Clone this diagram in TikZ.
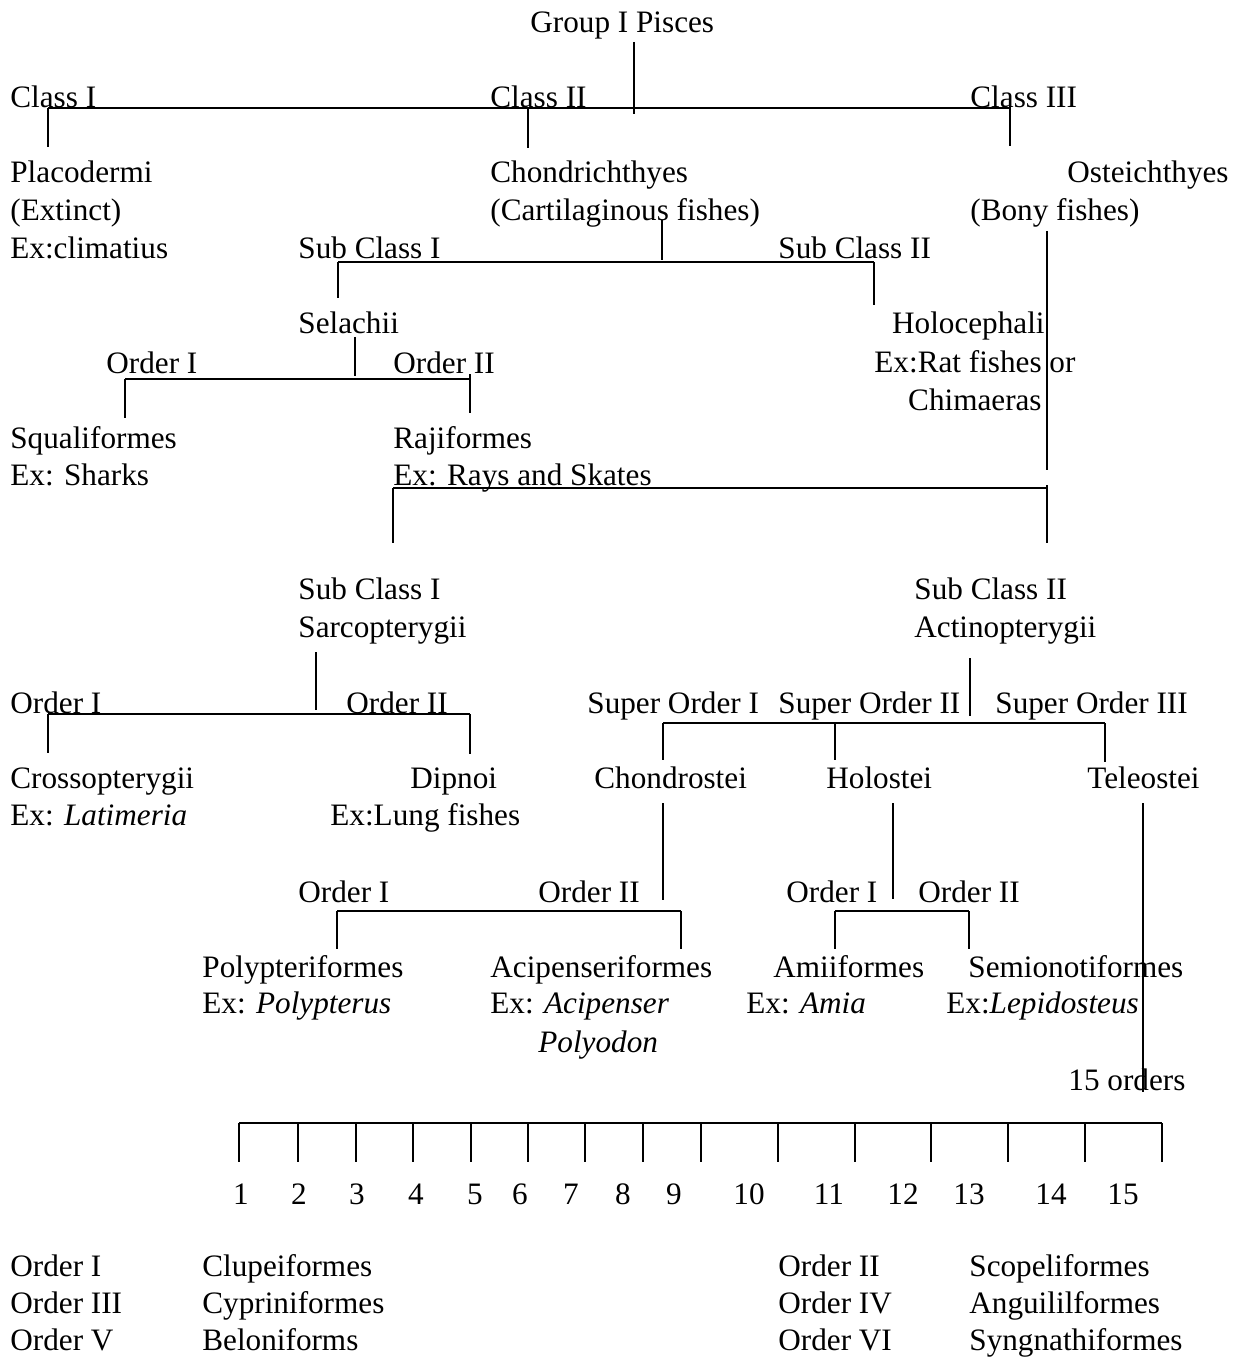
\documentclass[tikz,border=0pt]{standalone}
\usepackage{fontspec}
\setmainfont{Liberation Serif}
\begin{document}
\begin{tikzpicture}[x=0.5pt,y=-0.5pt,
  lbl/.style={anchor=base west,inner sep=0pt,font=\fontsize{15.6pt}{19pt}\selectfont},
  lblr/.style={lbl,anchor=base east},
  num/.style={lbl,anchor=base},
  link/.style={line width=1pt}]
\useasboundingbox (0,0) rectangle (1239,1358);

% ---------- labels ----------
\node[lbl] (grp) at (530,33) {Group I Pisces};
\node[lbl] (c1) at (10,108) {Class I};
\node[lbl] (c2) at (490,108) {Class II};
\node[lbl] (c3) at (970,108) {Class III};

\node[lbl] (plac) at (10,183) {Placodermi};
\node[lbl] (ext) at (10,221) {(Extinct)};
\node[lbl] (clim) at (10,259) {Ex:climatius};

\node[lbl] (chon) at (490,183) {Chondrichthyes};
\node[lbl] (cart) at (490,221) {(Cartilaginous fishes)};

\node[lblr] (oste) at (1229,183) {Osteichthyes};
\node[lbl] (bony) at (970,221) {(Bony fishes)};

\node[lbl] (sca) at (298,259) {Sub Class I};
\node[lbl] (scb) at (778,259) {Sub Class II};

\node[lbl] (sela) at (298,334) {Selachii};
\node[lblr] (holo) at (1045,334) {Holocephali};
\node[lbl] (rat) at (874,372) {Ex:Rat fishes or};
\node[lblr] (chim) at (1042,410) {Chimaeras};

\node[lbl] (oa) at (106,373) {Order I};
\node[lbl] (ob) at (393,373) {Order II};
\node[lbl] (squa) at (10,448) {Squaliformes};
\node[lbl] (shark) at (10,485) {Ex: Sharks};
\node[lbl] (raji) at (393,448) {Rajiformes};
\node[lbl] (rays) at (393,485) {Ex: Rays and Skates};

\node[lbl] (scc) at (298,599) {Sub Class I};
\node[lbl] (sarc) at (298,637) {Sarcopterygii};
\node[lbl] (scd) at (914,599) {Sub Class II};
\node[lbl] (actn) at (914,637) {Actinopterygii};

\node[lbl] (oc) at (10,713) {Order I};
\node[lbl] (od) at (346,713) {Order II};
\node[lbl] (soa) at (587,713) {Super Order I};
\node[lbl] (sob) at (778,713) {Super Order II};
\node[lbl] (soc) at (995,713) {Super Order III};

\node[lbl] (cros) at (10,788) {Crossopterygii};
\node[lbl] (lat) at (10,825) {Ex: \textit{Latimeria}};
\node[lbl] (dip) at (410,788) {Dipnoi};
\node[lbl] (lung) at (330,825) {Ex:Lung fishes};
\node[lbl] (chos) at (594,788) {Chondrostei};
\node[lbl] (hols) at (826,788) {Holostei};
\node[lbl] (tele) at (1087,788) {Teleostei};

\node[lbl] (oe) at (298,902) {Order I};
\node[lbl] (of) at (538,902) {Order II};
\node[lbl] (og) at (786,902) {Order I};
\node[lbl] (oh) at (918,902) {Order II};

\node[lbl] (polf) at (202,977) {Polypteriformes};
\node[lbl] (polx) at (202,1013) {Ex: \textit{Polypterus}};
\node[lbl] (acif) at (490,977) {Acipenseriformes};
\node[lbl] (acix) at (490,1013) {Ex: \textit{Acipenser}};
\node[lbl] (polyo) at (538,1052) {\textit{Polyodon}};
\node[lbl] (amif) at (773,977) {Amiiformes};
\node[lbl] (amix) at (746,1013) {Ex: \textit{Amia}};
\node[lbl] (semf) at (968,977) {Semionotiformes};
\node[lbl] (semx) at (946,1013) {Ex:\textit{Lepidosteus}};

\node[lbl] (fifteen) at (1068,1090) {15 orders};

\foreach \i/\x in {1/241,2/299,3/357,4/416,5/475,6/520,7/571,8/623,9/674,10/749,11/829,12/903,13/969,14/1051,15/1123}
  \node[num] (n\i) at (\x,1204) {\i};

\node[lbl] (r1a) at (10,1276) {Order I};
\node[lbl] (r1b) at (202,1276) {Clupeiformes};
\node[lbl] (r2a) at (10,1313) {Order III};
\node[lbl] (r2b) at (202,1313) {Cypriniformes};
\node[lbl] (r3a) at (10,1350) {Order V};
\node[lbl] (r3b) at (202,1350) {Beloniforms};
\node[lbl] (r1c) at (778,1276) {Order II};
\node[lbl] (r1d) at (969,1276) {Scopeliformes};
\node[lbl] (r2c) at (778,1313) {Order IV};
\node[lbl] (r2d) at (969,1313) {Anguililformes};
\node[lbl] (r3c) at (778,1350) {Order VI};
\node[lbl] (r3d) at (969,1350) {Syngnathiformes};

% ---------- junction points ----------
% classes
\coordinate (grpT) at (634,42);   \coordinate (grpB) at (634,114);
\coordinate (clL) at (48,108);    \coordinate (clR) at (1010,108);
\coordinate (clA) at (48,147);    \coordinate (clM) at (528,108);
\coordinate (clB) at (528,148);   \coordinate (clCt) at (1010,100);
\coordinate (clC) at (1010,146);
% sub classes of Chondrichthyes
\coordinate (chT) at (662,220);   \coordinate (chB) at (662,260);
\coordinate (scL) at (338,262);   \coordinate (scR) at (874,262);
\coordinate (scLb) at (338,298);  \coordinate (scRb) at (874,305);
% orders of Selachii
\coordinate (seT) at (355,337);   \coordinate (seB) at (355,376);
\coordinate (oaL) at (125,379);   \coordinate (oaR) at (470,379);
\coordinate (oaLb) at (125,418);  \coordinate (oaRt) at (470,374);
\coordinate (oaRb) at (470,413);
% sub classes of Osteichthyes
\coordinate (boT) at (1047,231);  \coordinate (boB) at (1047,470);
\coordinate (rsL) at (393,488);   \coordinate (rsR) at (1047,488);
\coordinate (rsRt) at (1047,485); \coordinate (rsRb) at (1047,543);
\coordinate (rsLb) at (393,543);
% orders of Sarcopterygii
\coordinate (saT) at (316,652);   \coordinate (saB) at (316,710);
\coordinate (ocL) at (48,714);    \coordinate (ocR) at (470,714);
\coordinate (ocLb) at (48,753);   \coordinate (ocRb) at (470,754);
% super orders of Actinopterygii
\coordinate (acT) at (970,658);   \coordinate (acB) at (970,716);
\coordinate (soL) at (663,723);   \coordinate (soR) at (1105,723);
\coordinate (soLb) at (663,760);  \coordinate (soMt) at (835,722);
\coordinate (soMb) at (835,760);  \coordinate (soRb) at (1105,762);
% stems below the super orders
\coordinate (csT) at (663,803);   \coordinate (csB) at (663,900);
\coordinate (hsT) at (893,803);   \coordinate (hsB) at (893,899);
\coordinate (tsT) at (1143,803);  \coordinate (tsB) at (1143,1092);
% orders of Chondrostei and Holostei
\coordinate (oeL) at (337,911);   \coordinate (oeR) at (681,911);
\coordinate (oeLb) at (337,949);  \coordinate (oeRb) at (681,949);
\coordinate (ogL) at (835,911);   \coordinate (ogR) at (969,911);
\coordinate (ogLb) at (835,949);  \coordinate (ogRb) at (969,949);
% the fifteen orders of Teleostei
\coordinate (tbL) at (239,1123);  \coordinate (tbR) at (1162,1123);

% ---------- connectors ----------
\draw[link] (grpT) -- (grpB);
\draw[link] (clL) -- (clR);
\draw[link] (clL) -- (clA);
\draw[link] (clM) -- (clB);
\draw[link] (clCt) -- (clC);

\draw[link] (chT) -- (chB);
\draw[link] (scL) -- (scR);
\draw[link] (scL) -- (scLb);
\draw[link] (scR) -- (scRb);

\draw[link] (seT) -- (seB);
\draw[link] (oaL) -- (oaR);
\draw[link] (oaL) -- (oaLb);
\draw[link] (oaRt) -- (oaRb);

\draw[link] (boT) -- (boB);
\draw[link] (rsL) -- (rsR);
\draw[link] (rsRt) -- (rsRb);
\draw[link] (rsL) -- (rsLb);

\draw[link] (saT) -- (saB);
\draw[link] (ocL) -- (ocR);
\draw[link] (ocL) -- (ocLb);
\draw[link] (ocR) -- (ocRb);

\draw[link] (acT) -- (acB);
\draw[link] (soL) -- (soR);
\draw[link] (soL) -- (soLb);
\draw[link] (soMt) -- (soMb);
\draw[link] (soR) -- (soRb);

\draw[link] (csT) -- (csB);
\draw[link] (hsT) -- (hsB);
\draw[link] (tsT) -- (tsB);

\draw[link] (oeL) -- (oeR);
\draw[link] (oeL) -- (oeLb);
\draw[link] (oeR) -- (oeRb);
\draw[link] (ogL) -- (ogR);
\draw[link] (ogL) -- (ogLb);
\draw[link] (ogR) -- (ogRb);

\draw[link] (tbL) -- (tbR);
\foreach \i/\x in {1/239,2/298,3/356,4/413,5/471,6/528,7/585,8/643,9/701,10/778,11/855,12/931,13/1008,14/1085,15/1162}{
  \coordinate (tk\i) at (\x,1123);
  \coordinate (tb\i) at (\x,1162);
  \draw[link] (tk\i) -- (tb\i);
}
\end{tikzpicture}
\end{document}
